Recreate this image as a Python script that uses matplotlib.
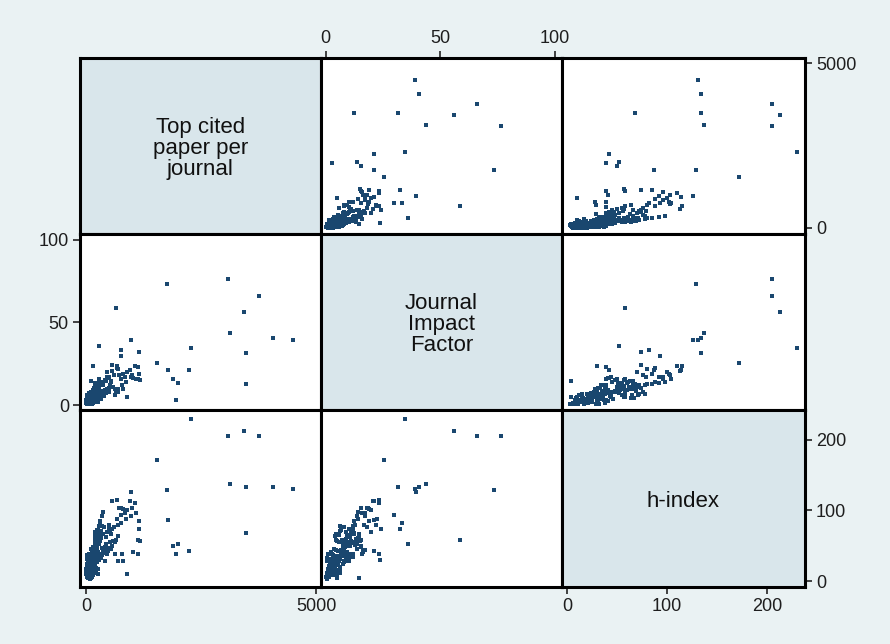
import matplotlib.pyplot as plt

plt.rcParams['font.family'] = ['Liberation Sans', 'DejaVu Sans']

# variables shown in the matrix
labels = ['Top cited\npaper per\njournal', 'Journal\nImpact\nFactor', 'h-index']

# outlying journals
tc_out = [4500, 4050, 3480, 3480, 3120, 3760, 3420, 3080, 2290, 2230, 1960,
          2000, 1890, 1760, 1770, 1540, 660, 980, 1140, 290, 750, 750]
jif_out = [39.1, 40.5, 12.5, 31.5, 43.8, 66.1, 56.1, 76.5, 34.4, 21.2, 2.8,
           13.5, 15.6, 73.2, 21.1, 25.5, 58.5, 39.2, 32.3, 35.8, 33.4, 30.0]
h_out = [131, 134, 68, 134, 137, 205, 213, 205, 230, 42, 39,
         52, 50, 129, 87, 172, 58, 126, 74, 52, 82, 93]

# dense core of small journals
tc_a = [20, 35, 50, 60, 80, 90, 100, 110, 120, 130, 40, 70, 85, 95, 105, 140, 150, 160, 170, 180,
        30, 55, 65, 75, 115, 125, 135, 145, 155, 165, 25, 45, 88, 98, 118, 128, 138, 148, 158, 168,
        190, 200, 210, 220, 230, 240, 250, 260, 270, 280, 15, 22, 48, 62, 78, 92, 108, 112, 175, 185]
jif_a = [2.5, 0.8, 4.1, 1.5, 0.5, 5.2, 1.8, 3.0, 6.1, 1.2, 4.6, 2.8, 0.6, 5.8, 3.3, 1.4, 3.9, 6.8, 2.2, 5.5,
         1.9, 6.3, 2.9, 4.4, 1.1, 3.6, 7.4, 2.4, 5.1, 3.2, 3.8, 1.3, 6.6, 2.0, 4.9, 2.7, 5.7, 1.6, 4.3, 7.2,
         4.5, 2.1, 6.0, 3.5, 7.8, 4.8, 1.7, 6.4, 3.1, 5.4, 3.4, 5.9, 1.0, 7.0, 2.6, 4.7, 8.0, 3.7, 2.3, 6.2]
h_a = [14, 5, 22, 10, 3, 27, 9, 18, 31, 7, 25, 13, 4, 33, 16, 8, 20, 38, 11, 29,
       9, 35, 14, 24, 6, 19, 42, 12, 28, 16, 21, 6, 37, 11, 26, 15, 32, 8, 23, 40,
       25, 12, 34, 19, 44, 27, 10, 36, 17, 30, 18, 31, 7, 39, 15, 26, 45, 21, 13, 34]

tc_d = [12, 44, 73, 27, 96, 58, 131, 83, 19, 112, 66, 38, 147, 91, 53, 122, 8, 77, 104, 33,
        61, 139, 86, 24, 118, 49, 157, 71, 14, 99, 42, 127, 56, 88, 31, 143, 67, 109, 21, 79]
jif_d = [1.2, 3.6, 0.7, 2.4, 4.9, 1.8, 3.1, 5.6, 0.9, 2.7, 4.2, 1.5, 3.8, 0.6, 5.1, 2.0, 1.7, 4.5, 0.8, 3.3,
         2.6, 6.1, 1.1, 4.0, 2.9, 0.5, 5.3, 3.5, 2.1, 1.4, 4.7, 2.3, 6.4, 3.0, 0.8, 4.1, 1.9, 5.9, 3.2, 2.5]
h_d = [6, 19, 11, 24, 15, 31, 8, 27, 17, 13, 36, 21, 10, 29, 4, 25, 14, 33, 9, 18,
       22, 12, 38, 16, 30, 7, 23, 35, 20, 11, 27, 41, 15, 24, 32, 9, 19, 28, 37, 13]

tc_e = [10, 33, 57, 81, 104, 128, 152, 176, 199, 223, 16, 39, 63, 87, 111, 134, 158, 181, 206, 247,
        5, 28, 52, 76, 99, 123, 146, 171, 194, 218, 11, 35, 59, 84, 107, 131, 154, 178, 202, 226]
jif_e = [3.1, 0.9, 5.4, 2.2, 7.1, 4.0, 1.3, 6.5, 8.2, 3.7, 0.4, 4.8, 2.6, 6.9, 1.0, 5.9, 8.6, 2.9, 4.3, 9.1,
         2.8, 5.0, 1.6, 3.9, 6.0, 0.7, 4.6, 7.5, 2.4, 5.8, 1.5, 2.9, 6.2, 4.1, 0.9, 7.9, 3.4, 5.2, 9.4, 1.8]
h_e = [17, 8, 28, 14, 35, 22, 10, 31, 46, 19, 5, 26, 15, 37, 9, 30, 48, 18, 24, 52,
       12, 23, 8, 20, 32, 5, 25, 39, 13, 29, 10, 16, 33, 21, 7, 43, 18, 27, 50, 11]

# medium journals
tc_b = [212, 348, 187, 263, 441, 305, 229, 376, 198, 517, 284, 362, 241, 455, 318, 203, 392, 271, 336, 489,
        176, 427, 258, 311, 224, 368, 193, 405, 287, 246, 532, 219, 343, 298, 474, 236, 381, 207, 326, 562,
        252, 413, 189, 357, 278, 498, 233, 321, 264, 446, 58, 93, 126, 148, 182, 72, 104, 133, 161, 47]
jif_b = [6.2, 8.1, 4.7, 9.3, 7.4, 5.6, 10.8, 6.9, 8.7, 11.6, 4.9, 12.3, 7.7, 9.9, 6.1, 11.2, 5.3, 13.4, 8.4, 10.1,
         3.8, 14.6, 9.6, 5.0, 12.7, 7.1, 4.1, 15.3, 10.4, 6.6, 13.9, 8.9, 11.9, 4.4, 16.2, 9.1, 7.9, 12.1, 14.2, 10.7,
         5.8, 9.4, 13.1, 6.4, 15.8, 8.2, 11.4, 3.6, 7.3, 17.1, 6.5, 7.5, 8.2, 9.0, 10.2, 5.5, 6.8, 7.8, 4.6, 4.2]
h_b = [33, 47, 58, 41, 52, 36, 62, 44, 69, 56, 30, 66, 49, 39, 71, 54, 43, 60, 35, 74,
       46, 63, 38, 57, 51, 40, 64, 48, 31, 72, 45, 59, 37, 67, 42, 53, 76, 34, 61, 50,
       65, 29, 55, 78, 39, 47, 70, 32, 58, 44, 20, 24, 27, 30, 33, 32, 36, 40, 44, 30]

# steep upper edge of the core
tc_s = [200, 340, 250, 190, 300, 230, 360, 280, 215, 310]
jif_s = [9.0, 13.5, 11.0, 9.5, 12.5, 10.0, 14.0, 12.0, 11.0, 13.0]
h_s = [60, 92, 72, 55, 85, 65, 98, 78, 68, 80]

# spread of larger journals
tc_c = [870, 520, 1090, 610, 760, 450, 980, 690, 1150, 560, 1070, 950, 667, 800, 900, 1000, 725, 572, 840, 670,
        500, 540, 580, 620, 660, 700, 900, 1130, 1015, 1130, 790, 640, 700, 800, 1170, 160, 112]
jif_c = [14.0, 12.0, 16.0, 18.0, 15.5, 20.0, 17.0, 22.0, 19.0, 24.0, 23.4, 21.0, 23.4, 19.0, 20.0, 18.0, 18.5, 20.5, 17.0, 22.3,
         16.7, 14.5, 11.0, 6.0, 8.0, 9.5, 5.0, 15.6, 16.5, 23.2, 12.0, 10.0, 8.0, 10.0, 15.2, 23.6, 14.5]
h_c = [88, 72, 96, 76, 104, 70, 92, 80, 85, 74, 110, 114, 115, 102, 100, 103, 103, 113, 96, 88,
       79, 66, 57, 55, 58, 64, 10, 58, 41, 39, 39, 39, 29, 28, 57, 30, 4]

top_cited = tc_out + tc_a + tc_d + tc_e + tc_b + tc_s + tc_c
impact = jif_out + jif_a + jif_d + jif_e + jif_b + jif_s + jif_c
hindex = h_out + h_a + h_d + h_e + h_b + h_s + h_c
data = [top_cited, impact, hindex]

xlims = [(-130, 5090), (-2.2, 103), (-5, 238)]
ylims = [(-182, 5152), (-3, 103.6), (-8.5, 242.5)]
ticks = [[0, 5000], [0, 50, 100], [0, 100, 200]]

W, H = 890, 644
xedges = [80, 320.5, 562, 805]
yedges = [58, 234, 410, 587]

bg = '#eaf2f3'
diag = '#d9e6eb'
navy = '#1a476f'
mark = [(-0.72, -1), (0.72, -1), (0.72, 1), (-0.72, 1)]

fig = plt.figure(figsize=(W / 100, H / 100), dpi=100, facecolor=bg)

for i in range(3):
    for j in range(3):
        l = xedges[j] / W
        b = 1 - yedges[i + 1] / H
        w = (xedges[j + 1] - xedges[j]) / W
        h = (yedges[i + 1] - yedges[i]) / H
        ax = fig.add_axes([l, b, w, h])
        ax.set_xlim(xlims[j])
        ax.set_ylim(ylims[i])
        for s in ax.spines.values():
            s.set_linewidth(2.2)
            s.set_color('black')
        ax.set_xticks([])
        ax.set_yticks([])
        if i == j:
            ax.set_facecolor(diag)
            ax.text(0.5, 0.485, labels[i], transform=ax.transAxes, ha='center', va='center',
                    fontsize=16, linespacing=1.0, color='#111111')
        else:
            ax.set_facecolor('white')
            ax.plot(data[j], data[i], linestyle='none', marker=mark, ms=3.2, mew=0,
                    color=navy, snap=False)

        tick_kw = dict(length=5, width=1.3, color='#333333', labelsize=13,
                       labelcolor='#1e1e1e', pad=3)
        if i == 0 and j == 1:
            ax.set_xticks(ticks[1])
            ax.xaxis.tick_top()
            ax.tick_params(axis='x', **tick_kw)
        if i == 2 and j in (0, 2):
            ax.set_xticks(ticks[j])
            ax.tick_params(axis='x', **tick_kw)
        if i == 1 and j == 0:
            ax.set_yticks(ticks[1])
            ax.tick_params(axis='y', **tick_kw)
        if j == 2 and i in (0, 2):
            ax.set_yticks(ticks[i])
            ax.yaxis.tick_right()
            ax.tick_params(axis='y', **tick_kw)

fig.savefig('out.png', dpi=100, facecolor=bg)
